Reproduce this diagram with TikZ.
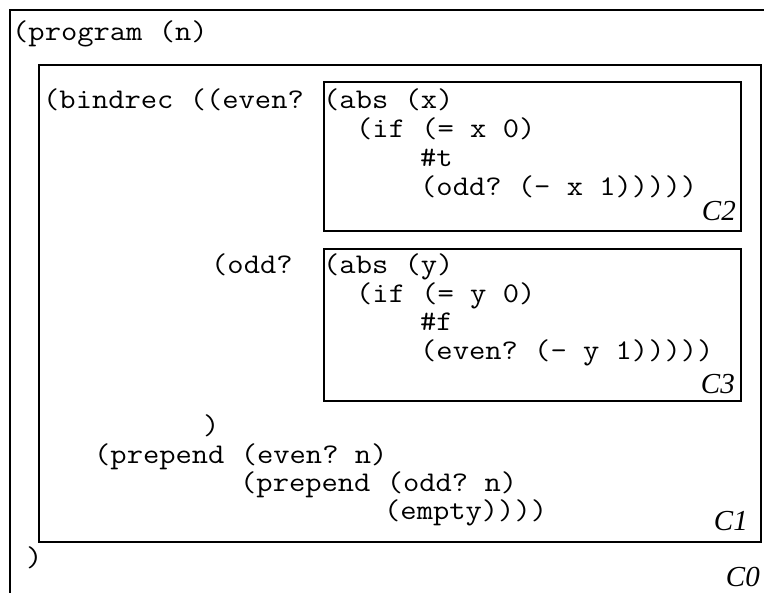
\documentclass[tikz,border=0pt]{standalone}
\usepackage{fontspec}
\setmainfont{Liberation Serif}
\setmonofont[FakeStretch=1.11]{Latin Modern Mono}
\begin{document}
\begin{tikzpicture}[x=1pt,y=-1pt,
  code/.style={anchor=base west,inner sep=0pt,font=\ttfamily\fontsize{28.5}{28.5}\selectfont},
  ctx/.style={anchor=base east,inner sep=0pt,font=\itshape\fontsize{29}{29}\selectfont},
  frame/.style={draw,line width=1.8pt,anchor=north west,inner sep=0pt}]
\useasboundingbox (0,0) rectangle (764,593);
% outermost context C0: only its top and left edges are in view
\coordinate (c0tr) at (764,10);
\coordinate (c0tl) at (10,10);
\coordinate (c0bl) at (10,593);
\draw[line width=1.8pt] (c0tr) -- (c0tl) -- (c0bl);
% nested contexts
\node[frame,minimum width=722pt,minimum height=477pt] (c1) at (38,64) {};
\node[frame,minimum width=417pt,minimum height=149pt] (c2) at (323,81) {};
\node[frame,minimum width=417pt,minimum height=152pt] (c3) at (323,248) {};
% program text
\node[code] (l1) at (12,41) {(program (n)};
\node[code] (l2) at (43,109) {(bindrec ((even?};
\node[code] (e1) at (323,109) {(abs (x)};
\node[code] (e2) at (356,138) {(if (= x 0)};
\node[code] (e3) at (420,167) {\#t};
\node[code] (e4) at (420,196) {(odd? (- x 1)))))};
\node[code] (l3) at (211,274) {(odd?};
\node[code] (o1) at (323,274) {(abs (y)};
\node[code] (o2) at (356,303) {(if (= y 0)};
\node[code] (o3) at (420,331) {\#f};
\node[code] (o4) at (420,360) {(even? (- y 1)))))};
\node[code] (l4) at (203,435) {)};
\node[code] (l5) at (94,464) {(prepend (even? n)};
\node[code] (l6) at (240,492) {(prepend (odd? n)};
\node[code] (l7) at (384,520) {(empty))))};
\node[code] (l8) at (26,567) {)};
% context labels
\node[ctx] (lc2) at (736,221) {C2};
\node[ctx] (lc3) at (735,394) {C3};
\node[ctx] (lc1) at (748,531) {C1};
\node[ctx] (lc0) at (760,587) {C0};
\end{tikzpicture}
\end{document}
